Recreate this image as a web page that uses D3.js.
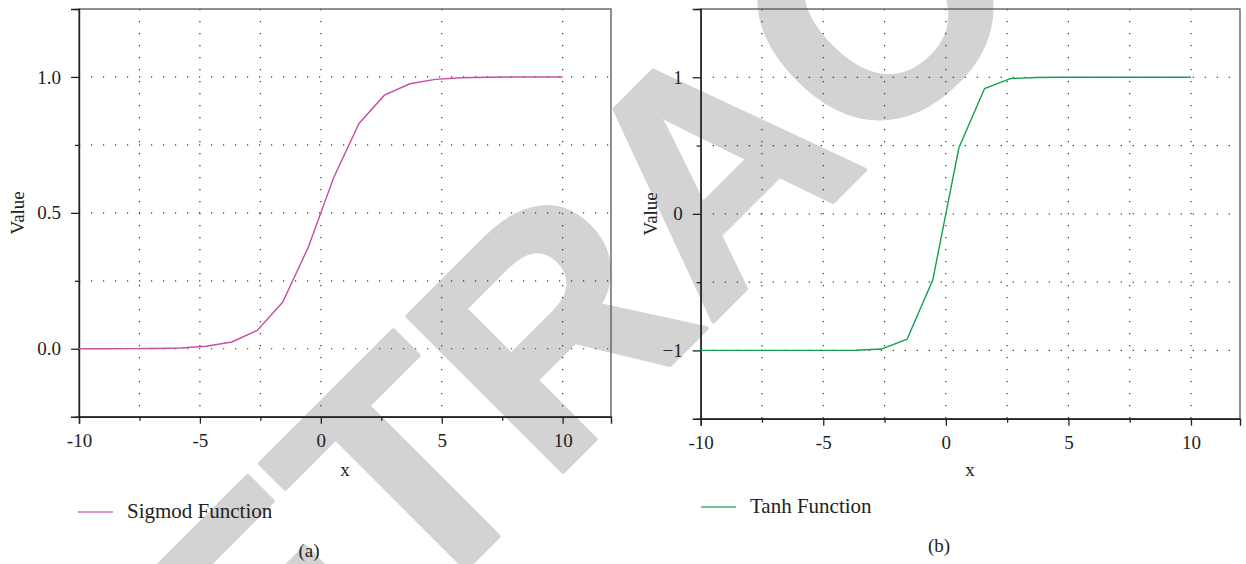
<!DOCTYPE html>
<html>
<head>
<meta charset="utf-8">
<script src="https://cdn.jsdelivr.net/npm/d3@7"></script>
<style>
  body { margin: 0; background: #fff; }
  svg text { font-family: "Liberation Serif", "DejaVu Serif", serif; fill: #222; }
</style>
</head>
<body>
<div id="chart"></div>
<script>
// sample points
var xs = [-10, -8.95, -7.89, -6.84, -5.79, -4.74, -3.68, -2.63, -1.58, -0.53,
          0.53, 1.58, 2.63, 3.68, 4.74, 5.79, 6.84, 7.89, 8.95, 10];
var sigmoidVals = [0.0000, 0.0001, 0.0004, 0.0011, 0.003, 0.009, 0.025, 0.067, 0.171, 0.371,
                   0.629, 0.829, 0.933, 0.975, 0.991, 0.997, 0.999, 1.0, 1.0, 1.0];
var tanhVals = [-1, -1, -1, -1, -1, -0.9998, -0.9987, -0.990, -0.918, -0.482,
                0.482, 0.918, 0.990, 0.9987, 0.9998, 1, 1, 1, 1, 1];

var xTicks = [-10, -7.5, -5, -2.5, 0, 2.5, 5, 7.5, 10];
var xLabels = [-10, -5, 0, 5, 10];
var sigTicks = [-0.25, 0, 0.25, 0.5, 0.75, 1, 1.25];
var sigLabels = [0, 0.5, 1];
var tanhTicks = [-1.5, -1, -0.5, 0, 0.5, 1, 1.5];
var tanhLabels = [-1, 0, 1];

var W = 1246, H = 564;
var svg = d3.select("#chart").append("svg")
    .attr("width", W)
    .attr("height", H);

// grey stamp behind the plots
svg.append("text")
    .attr("transform", "translate(106,929) rotate(-45)")
    .style("font-family", "'Liberation Sans', Arial, sans-serif")
    .style("font-weight", "bold")
    .style("font-size", "320px")
    .style("letter-spacing", "-5px")
    .style("fill", "#d3d3d3")
    .style("stroke", "#d3d3d3")
    .style("stroke-width", "4px")
    .style("stroke-linejoin", "round")
    .text("RETRACTED");

var panels = [
  { left: 79, right: 611, top: 9, bottom: 416.7, yDomain: [-0.25, 1.25],
    yTicks: sigTicks, yLabels: sigLabels, yFmt: d3.format(".1f"),
    gridX: [-7.5, -5, -2.5, 0, 5, 10], gridY: [0, 0.25, 0.5, 0.75, 1],
    vals: sigmoidVals, color: "#c64ea5", name: "Sigmod Function", tag: "(a)",
    legX: 78, legY: 512, tagX: 309, tagY: 557, titleY: 17, xTitleX: 345 },
  { left: 700.7, right: 1240, top: 9, bottom: 418.7, yDomain: [-1.5, 1.5],
    yTicks: tanhTicks, yLabels: tanhLabels, yFmt: d3.format("d"),
    gridX: [-7.5, -5, -2.5, 0, 2.5, 5, 7.5, 10], gridY: [-1, -0.5, 0, 0.5, 1],
    vals: tanhVals, color: "#14a050", name: "Tanh Function", tag: "(b)",
    legX: 701, legY: 507, tagX: 939, tagY: 552, titleY: 650, xTitleX: 970 }
];

panels.forEach(function(p) {
  var x = d3.scaleLinear().domain([-10, 12]).range([p.left, p.right]);
  var y = d3.scaleLinear().domain(p.yDomain).range([p.bottom, p.top]);
  var g = svg.append("g");

  // dotted grid
  g.selectAll(".gx").data(p.gridX).enter().append("line")
      .attr("x1", d => x(d)).attr("x2", d => x(d))
      .attr("y1", p.top).attr("y2", p.bottom)
      .attr("stroke", "#333").attr("stroke-width", 1.2)
      .attr("stroke-dasharray", "1.2,10.8");
  g.selectAll(".gy").data(p.gridY).enter().append("line")
      .attr("x1", p.left).attr("x2", p.right)
      .attr("y1", d => y(d)).attr("y2", d => y(d))
      .attr("stroke", "#333").attr("stroke-width", 1.2)
      .attr("stroke-dasharray", "1.2,10.8");

  // frame
  g.append("rect")
      .attr("x", p.left).attr("y", p.top)
      .attr("width", p.right - p.left).attr("height", p.bottom - p.top)
      .attr("fill", "none").attr("stroke", "#555").attr("stroke-width", 1.3);

  // x axis
  var xa = g.append("g")
      .attr("transform", "translate(0," + p.bottom + ")")
      .call(d3.axisBottom(x).tickValues(xTicks).tickSize(7).tickPadding(10)
        .tickFormat(d => xLabels.indexOf(d) >= 0 ? d : ""));
  xa.select(".domain").attr("stroke", "#222").attr("stroke-width", 1.4);
  xa.selectAll(".tick line").attr("stroke", "#222").attr("stroke-width", 1.3)
      .attr("y2", d => xLabels.indexOf(d) >= 0 ? 7 : 4);
  xa.selectAll(".tick text").style("font-size", "19px")
      .style("font-family", "'Liberation Serif', serif").attr("fill", "#222");

  // y axis
  var ya = g.append("g")
      .attr("transform", "translate(" + p.left + ",0)")
      .call(d3.axisLeft(y).tickValues(p.yTicks).tickSize(8).tickPadding(10)
        .tickFormat(d => p.yLabels.indexOf(d) >= 0 ? p.yFmt(d) : ""));
  ya.select(".domain").attr("stroke", "#222").attr("stroke-width", 1.4);
  ya.selectAll(".tick line").attr("stroke", "#222").attr("stroke-width", 1.3)
      .attr("x2", d => p.yLabels.indexOf(d) >= 0 ? -8 : -4);
  ya.selectAll(".tick text").style("font-size", "19px")
      .style("font-family", "'Liberation Serif', serif").attr("fill", "#222");

  // curve
  var line = d3.line()
      .x((d, i) => x(xs[i]))
      .y(d => y(d));
  g.append("path")
      .datum(p.vals)
      .attr("d", line)
      .attr("fill", "none")
      .attr("stroke", p.color)
      .attr("stroke-width", 1.4);

  // axis titles
  g.append("text")
      .attr("x", p.xTitleX).attr("y", 476)
      .attr("text-anchor", "middle")
      .style("font-size", "19px")
      .text("x");
  g.append("text")
      .attr("transform", "translate(" + (p.titleY + 7) + "," + ((p.top + p.bottom) / 2) + ") rotate(-90)")
      .attr("text-anchor", "middle")
      .style("font-size", "19px")
      .text("Value");

  // legend
  g.append("line")
      .attr("x1", p.legX).attr("x2", p.legX + 35)
      .attr("y1", p.legY).attr("y2", p.legY)
      .attr("stroke", p.color).attr("stroke-opacity", 0.8).attr("stroke-width", 1.4);
  g.append("text")
      .attr("x", p.legX + 49).attr("y", p.legY + 6)
      .style("font-size", "21px")
      .text(p.name);

  // panel tag
  g.append("text")
      .attr("x", p.tagX).attr("y", p.tagY)
      .attr("text-anchor", "middle")
      .style("font-size", "19px")
      .text(p.tag);
});
</script>
</body>
</html>
